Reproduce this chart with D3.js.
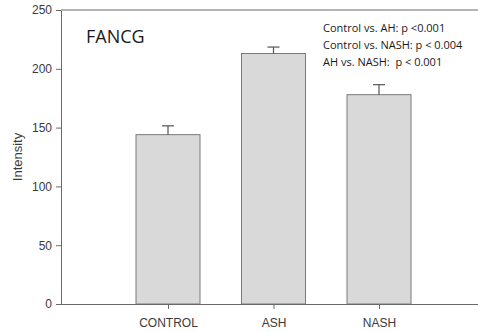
<!DOCTYPE html>
<html>
<head>
<meta charset="utf-8">
<script src="https://cdn.jsdelivr.net/npm/d3@7"></script>
<style>
  body { margin: 0; background: #fff; }
  .axis text { font-family: "Liberation Sans", Arial, sans-serif; font-size: 12px; fill: #3a3a3a; }
  .axis path, .axis line { stroke: #6a6a6a; }
</style>
</head>
<body>
<script>
// data
var groups = ["CONTROL", "ASH", "NASH"];
var means = [144, 213, 178];
var errors = [7.5, 5.5, 8.5];
var yTicks = [0, 50, 100, 150, 200, 250];
var notes = ["Control vs. AH: p <0.001", "Control vs. NASH: p < 0.004", "AH vs. NASH:  p < 0.001"];

var w = 478, h = 332;
var plotL = 61, plotR = 478, plotT = 10, plotB = 304;

var svg = d3.select("body").append("svg")
    .attr("width", w)
    .attr("height", h);

var x = d3.scalePoint()
    .domain(groups)
    .range([168, 379]);
var barW = 64;

var y = d3.scaleLinear()
    .domain([0, 250])
    .range([plotB, plotT]);

// frame top line
svg.append("line")
    .attr("x1", plotL).attr("x2", plotR)
    .attr("y1", plotT).attr("y2", plotT)
    .style("stroke", "#6a6a6a");

// bars
svg.selectAll(".bar")
    .data(means)
    .enter().append("rect")
    .attr("class", "bar")
    .attr("x", (d, i) => x(groups[i]) - barW / 2)
    .attr("y", d => y(d))
    .attr("width", barW)
    .attr("height", d => plotB - y(d))
    .style("fill", "#d9d9d9")
    .style("stroke", "#7a7a7a");

// error bars
var err = svg.selectAll(".err")
    .data(means)
    .enter().append("g")
    .attr("class", "err");
err.append("line")
    .attr("x1", (d, i) => x(groups[i])).attr("x2", (d, i) => x(groups[i]))
    .attr("y1", d => y(d))
    .attr("y2", (d, i) => y(d + errors[i]))
    .style("stroke", "#555").style("stroke-width", 1.2);
err.append("line")
    .attr("x1", (d, i) => x(groups[i]) - 6).attr("x2", (d, i) => x(groups[i]) + 6)
    .attr("y1", (d, i) => y(d + errors[i]))
    .attr("y2", (d, i) => y(d + errors[i]))
    .style("stroke", "#555").style("stroke-width", 1.2);

// axes
svg.append("g")
    .attr("class", "axis")
    .attr("transform", "translate(" + plotL + ",0)")
    .call(d3.axisLeft(y).tickValues(yTicks).tickSize(5).tickPadding(4).tickSizeOuter(0));

var xAxis = svg.append("g")
    .attr("class", "axis")
    .attr("transform", "translate(0," + plotB + ")")
    .call(d3.axisBottom(x).tickSize(5).tickPadding(9).tickSizeOuter(0));
xAxis.select(".domain").attr("d", "M" + plotL + ",0.5H" + plotR);

// y label
svg.append("text")
    .attr("transform", "translate(22,157) rotate(-90)")
    .attr("text-anchor", "middle")
    .style("font-family", "Liberation Sans, Arial, sans-serif")
    .style("font-size", "13px")
    .style("fill", "#3a3a3a")
    .text("Intensity");

// title
svg.append("text")
    .attr("x", 86).attr("y", 43)
    .style("font-family", "Open Sans, sans-serif")
    .style("font-size", "18px")
    .style("fill", "#1a1a1a")
    .text("FANCG");

// stats notes
svg.selectAll(".note")
    .data(notes)
    .enter().append("text")
    .attr("class", "note")
    .attr("x", 323)
    .attr("y", (d, i) => 32 + i * 17)
    .style("font-family", "Open Sans, sans-serif")
    .style("font-size", "11px")
    .style("white-space", "pre")
    .style("fill", "#1a1a1a")
    .text(d => d);
</script>
</body>
</html>
